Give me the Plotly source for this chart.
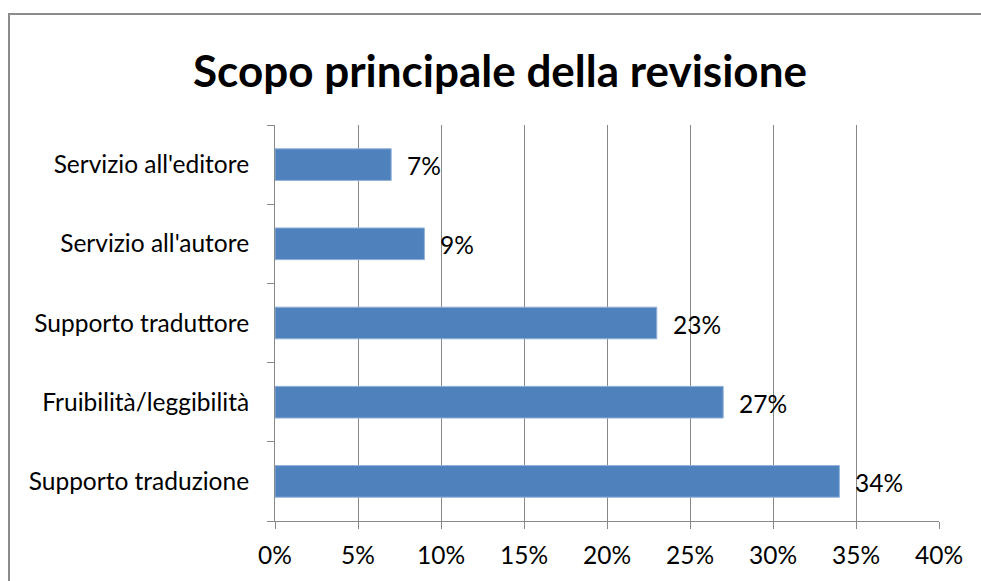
import plotly.graph_objects as go

# Survey answers, listed bottom-to-top as they appear on the axis
categories = [
    "Supporto traduzione",
    "Fruibilità/leggibilità",
    "Supporto traduttore",
    "Servizio all'autore",
    "Servizio all'editore",
]
shares = [0.34, 0.27, 0.23, 0.09, 0.07]

x_ticks = [0, 0.05, 0.10, 0.15, 0.20, 0.25, 0.30, 0.35, 0.40]

W, H = 981, 581
L, R, T, B = 275, 42, 125, 58
pw, ph = W - L - R, H - T - B

FONT = "Lato, 'Open Sans', sans-serif"
GRID = "#888888"
FS = 24.5

fig = go.Figure(
    go.Bar(
        x=shares,
        y=categories,
        orientation="h",
        marker=dict(color="#4F81BD", line=dict(color="#93B3DA", width=1)),
        width=0.4,
        hoverinfo="skip",
    )
)

# value labels to the right of each bar
for v, c in zip(shares, categories):
    fig.add_annotation(
        x=v, y=c, xref="x", yref="y",
        text=f"{round(v * 100)}%",
        showarrow=False, xanchor="left", yanchor="middle",
        xshift=14, yshift=-1, font=dict(family=FONT, size=FS, color="#000000"),
    )

# outer chart frame (runs past the right and bottom edges)
def px_x(p):
    return (p - L) / pw

def px_y(p):
    return 1 - (p - T) / ph

fig.add_shape(
    type="rect", xref="paper", yref="paper",
    x0=px_x(9), x1=px_x(W + 40), y0=px_y(H + 40), y1=px_y(13.5),
    line=dict(color="#8C8C8C", width=2), fillcolor="rgba(0,0,0,0)", layer="below",
)

fig.update_layout(
    width=W, height=H,
    margin=dict(l=L, r=R, t=T, b=B, pad=0),
    paper_bgcolor="white", plot_bgcolor="white",
    showlegend=False,
    title=dict(
        text="<b>Scopo principale della revisione</b>",
        x=500 / W, xanchor="center",
        y=1 - 72 / H, yanchor="middle",
        font=dict(family=FONT, size=44, color="#000000"),
    ),
    xaxis=dict(
        range=[0, 0.40],
        tickvals=x_ticks,
        tickformat=".0%",
        showgrid=True, gridcolor=GRID, gridwidth=1,
        showline=True, linecolor=GRID, linewidth=1,
        ticks="outside", ticklen=7, tickcolor=GRID, tickwidth=1,
        ticklabelstandoff=6,
        tickfont=dict(family=FONT, size=FS, color="#000000"),
        zeroline=False,
        fixedrange=True,
    ),
    yaxis=dict(
        type="category",
        categoryorder="array", categoryarray=categories,
        showgrid=False,
        showline=True, linecolor=GRID, linewidth=1,
        ticks="outside", ticklen=7, tickcolor=GRID, tickwidth=1,
        tickson="boundaries",
        ticklabelstandoff=20,
        tickfont=dict(family=FONT, size=FS, color="#000000"),
        fixedrange=True,
    ),
)

fig.write_html("out.html", config={"displayModeBar": False})
